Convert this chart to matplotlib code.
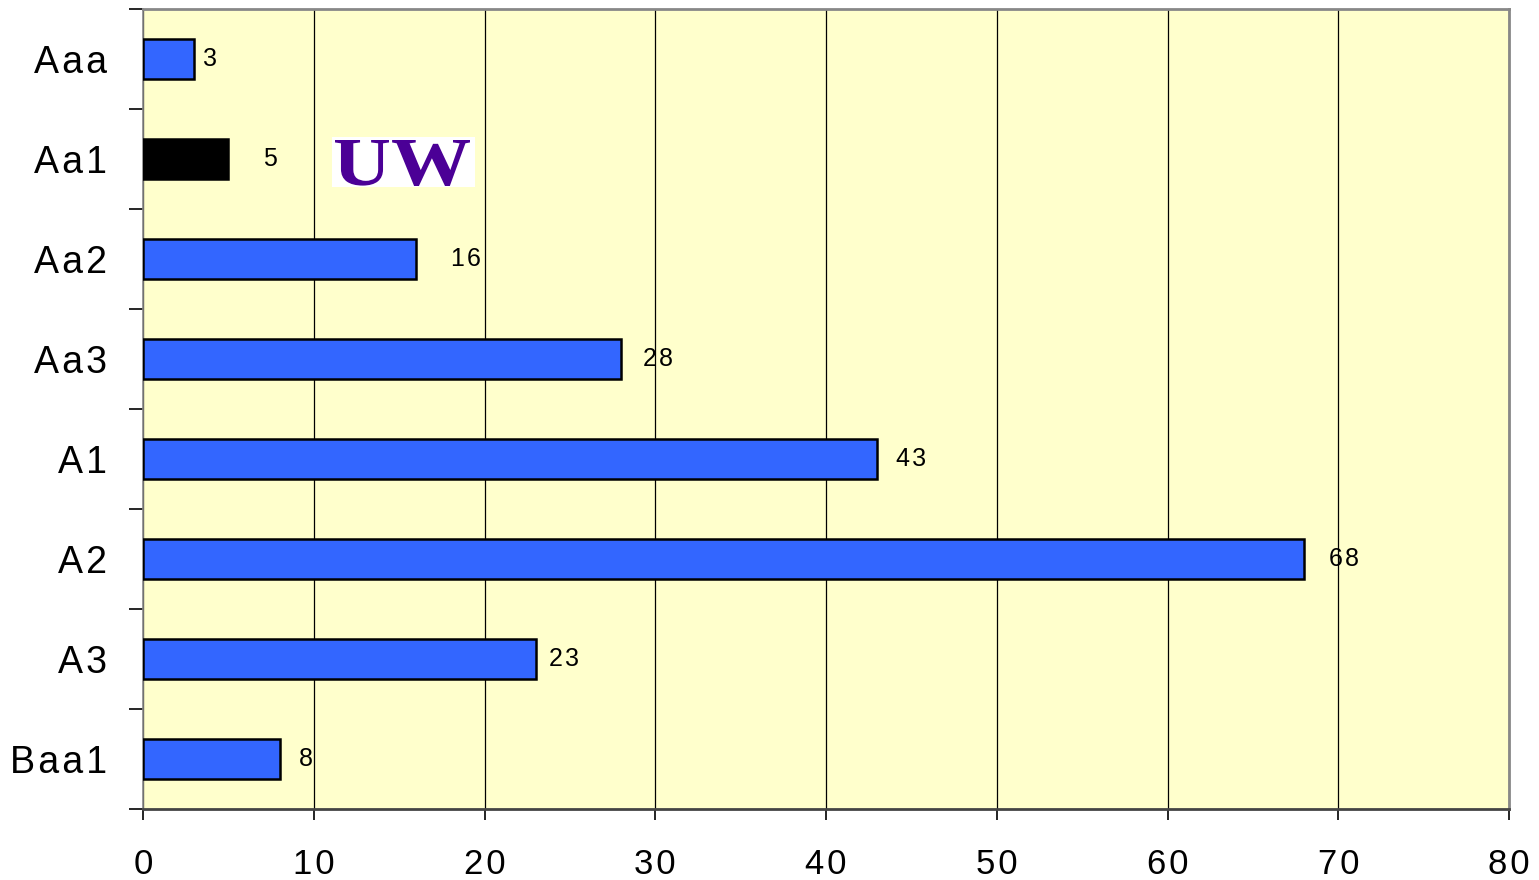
import matplotlib
matplotlib.use("Agg")
import matplotlib.pyplot as plt
from matplotlib.patches import Rectangle, PathPatch
from matplotlib.textpath import TextPath
from matplotlib.font_manager import FontProperties
from matplotlib.transforms import Affine2D
import numpy as np

plt.rcParams['font.family'] = ['Liberation Sans', 'DejaVu Sans']

# Ratings and counts, top to bottom
categories = ["Aaa", "Aa1", "Aa2", "Aa3", "A1", "A2", "A3", "Baa1"]
counts = [3, 5, 16, 28, 43, 68, 23, 8]
bar_colors = ["#3366FF", "#000000", "#3366FF", "#3366FF",
              "#3366FF", "#3366FF", "#3366FF", "#3366FF"]
label_offsets_px = [16, 42, 50, 37, 34, 40, 28, 26]
x_ticks = [0, 10, 20, 30, 40, 50, 60, 70, 80]

HAIR = "\u200a"


def tracked(s):
    """Open up the letter spacing a little."""
    return HAIR.join(s)


fig = plt.figure(figsize=(15.39, 8.8), dpi=100)
ax = fig.add_axes([143 / 1539, 1 - 809 / 880, (1509 - 143) / 1539, 800 / 880])
ax.set_facecolor("#FFFFCC")

y = np.arange(len(categories))
ax.barh(y, counts, height=0.4, color=bar_colors, edgecolor="black",
        linewidth=1.8, zorder=3)

ax.set_xlim(0, 80)
ax.set_ylim(len(categories) - 0.5, -0.5)

# vertical grid
ax.set_xticks(x_ticks)
ax.set_xticklabels([tracked(str(t)) for t in x_ticks], fontsize=25)
ax.xaxis.grid(True, color="black", linewidth=0.9, zorder=1)
ax.set_axisbelow(True)

# category boundaries get tick marks, centers get the labels
ax.set_yticks(np.arange(len(categories) + 1) - 0.5)
ax.set_yticklabels([])
ax.set_yticks(y, minor=True)
ax.set_yticklabels([tracked(c) for c in categories], minor=True, fontsize=27)
ax.tick_params(axis="y", which="minor", length=0, pad=26)
ax.tick_params(axis="y", which="major", length=10, width=1.2, color="black")
ax.tick_params(axis="x", which="major", length=8, width=1.2, color="black", pad=20)

for side in ["top", "right"]:
    ax.spines[side].set_color("#888888")
    ax.spines[side].set_linewidth(2.0)
ax.spines["left"].set_color("#888888")
ax.spines["left"].set_linewidth(1.2)
ax.spines["bottom"].set_color("#444444")
ax.spines["bottom"].set_linewidth(2.0)

# value labels at bar ends
for yi, v, off in zip(y, counts, label_offsets_px):
    ax.annotate(tracked(str(v)), xy=(v, yi), xytext=(off * 72 / 100, 0),
                textcoords="offset points", ha="center", va="center",
                fontsize=18, zorder=4)

# UW logo: white plate with purple serif letters stretched to fill it
logo_x0, logo_x1 = (332 - 143) / 1366, (475 - 143) / 1366
logo_y0, logo_y1 = (809 - 187) / 800, (809 - 137) / 800
ax.add_patch(Rectangle((logo_x0, logo_y0), logo_x1 - logo_x0, logo_y1 - logo_y0,
                       transform=ax.transAxes, facecolor="white",
                       edgecolor="none", zorder=5))
tp = TextPath((0, 0), "UW", size=1,
              prop=FontProperties(family="Liberation Serif", weight="bold"))
ext = tp.get_extents()
gx0, gx1 = (335 - 143) / 1366, (470 - 143) / 1366
gy0, gy1 = (809 - 186) / 800, (809 - 140) / 800
sx = (gx1 - gx0) / ext.width
sy = (gy1 - gy0) / ext.height
glyph_tf = (Affine2D().translate(-ext.x0, -ext.y0).scale(sx, sy)
            .translate(gx0, gy0) + ax.transAxes)
ax.add_patch(PathPatch(tp, transform=glyph_tf, facecolor="#4B0096",
                       edgecolor="none", zorder=6))

fig.savefig("out.png", dpi=100)
